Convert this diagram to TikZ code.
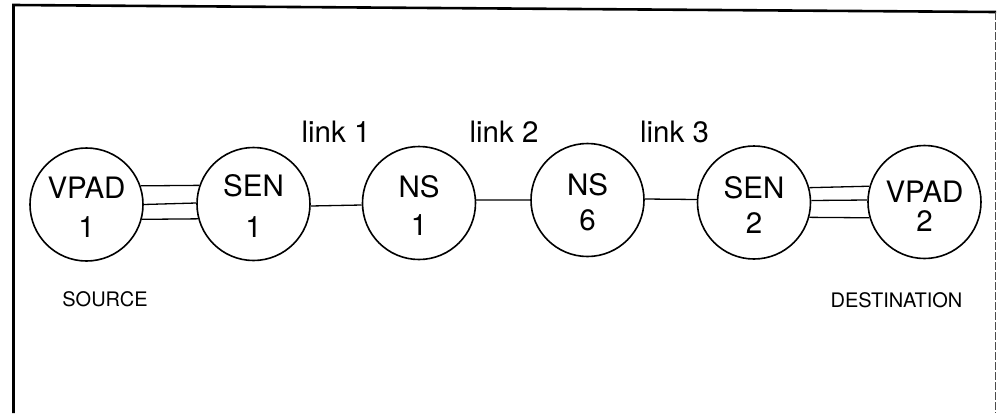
\documentclass[tikz,border=0pt]{standalone}
\usepackage{fontspec}
\setmainfont{TeX Gyre Heros}
\newcommand\stationtext[3]{\rule{0pt}{26pt}#1\\[#3]#2}
\begin{document}
\begin{tikzpicture}[x=1pt,y=-1pt,
  station/.style={draw,line width=1.6pt,circle,minimum size=113pt,inner sep=0pt,align=center,font=\fontsize{29.5}{29}\selectfont},
  lbl/.style={font=\fontsize{29.5}{29}\selectfont,inner sep=0pt,anchor=base},
  endlabel/.style={font=\fontsize{20}{20}\selectfont,inner sep=0pt,anchor=base},
  wire/.style={line width=1.3pt}]
\useasboundingbox (0,0) rectangle (997,413);
\draw[line width=2.6pt] (13.5,413) -- (13.5,5) -- (996,12);
\draw[line width=1pt,black!70,dash pattern=on 8pt off 2pt] (995.5,12) -- (995.5,413);
\node[station] (v1) at (86.5,204.5) {\stationtext{VPAD}{1}{10pt}};
\node[station] (s1) at (253.5,204) {\stationtext{SEN}{1}{12pt}};
\node[station] (n1) at (419,203) {\stationtext{NS}{1}{9pt}};
\node[station] (n6) at (587.5,200) {\stationtext{NS}{6}{6pt}};
\node[station] (s2) at (754,202.5) {\stationtext{SEN}{2}{6pt}};
\node[station] (v2) at (924.5,202) {\rule{0pt}{30pt}VPAD\\[0pt]2};
\node[lbl] (l1) at (336,142) {link 1};
\node[lbl] (l2) at (504,142) {link 2};
\node[lbl] (l3) at (674.5,142) {link 3};
\node[endlabel] (src) at (105,306) {SOURCE};
\node[endlabel] (dst) at (896.5,307) {DESTINATION};
\draw[wire] (v1.19) -- (s1.161);
\draw[wire] (v1.0.5) -- (s1.179.5);
\draw[wire] (v1.-15) -- (s1.-165);
\draw[wire] (s2.15.4) -- (v2.164.6);
\draw[wire] (s2.2) -- (v2.178);
\draw[wire] (s2.-15.4) -- (v2.-164.6);
\draw[wire] (s1.-2) -- (n1.182.7);
\draw[wire] (n1.3) -- (n6.180);
\draw[wire] (n6.1) -- (s2.177);
\end{tikzpicture}
\end{document}
